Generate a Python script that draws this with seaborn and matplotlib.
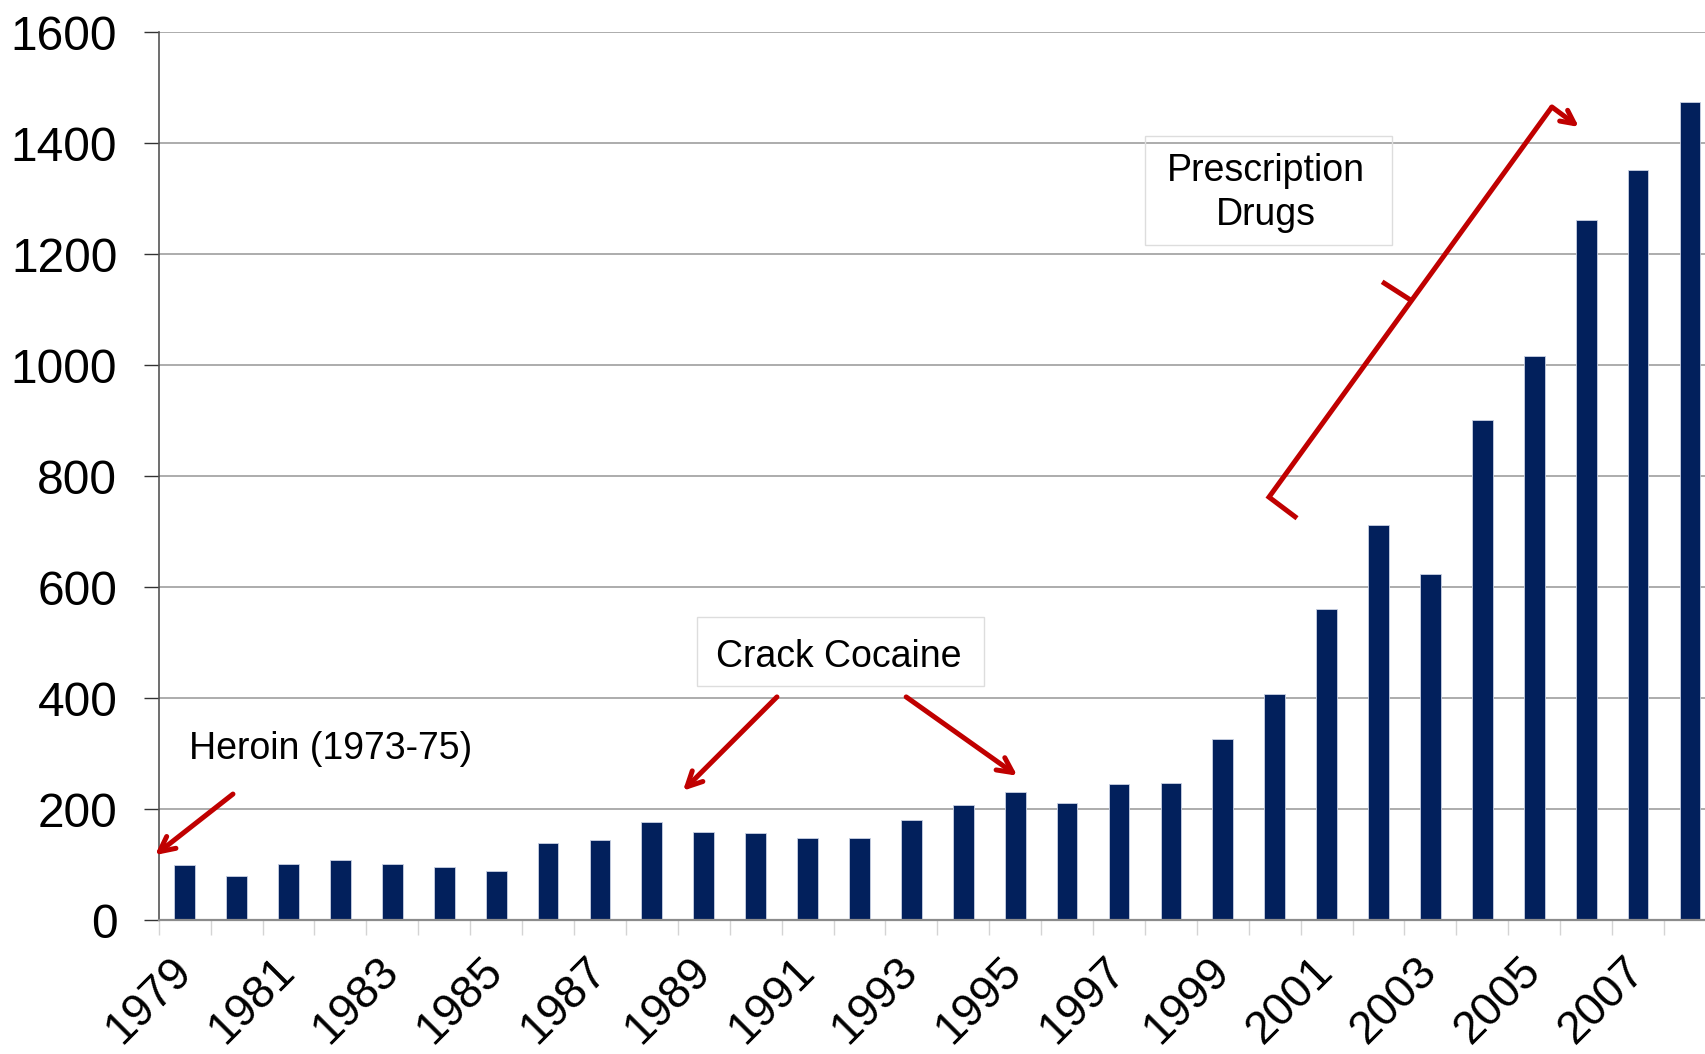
import numpy as np
import pandas as pd
import matplotlib
matplotlib.use("Agg")
import matplotlib.pyplot as plt
import seaborn as sns
from matplotlib.patches import Rectangle

# Annual counts, 1979-2008
years = [str(y) for y in range(1979, 2009)]
counts = [99, 79, 101, 108, 101, 95, 88, 138, 145, 177,
          159, 156, 147, 147, 181, 207, 230, 211, 245, 247,
          327, 408, 560, 712, 623, 901, 1017, 1262, 1352, 1474]
y_ticks = [0, 200, 400, 600, 800, 1000, 1200, 1400, 1600]
label_years = years[::2]

sns.set_theme(style="white")
plt.rcParams["font.family"] = ["Liberation Sans", "DejaVu Sans"]

BAR = "#02205C"
RED = "#C00000"

fig = plt.figure(figsize=(17.05, 10.54), dpi=100)
ax = fig.add_axes([0.0931, 0.1271, 0.9069, 0.8425])

df = pd.DataFrame({"year": years, "count": counts})
sns.barplot(data=df, x="year", y="count", color=BAR, saturation=1,
            width=0.4, edgecolor="#c9d1e3", linewidth=0.6, ax=ax)

ax.set_xlim(-0.5, 29.29)
ax.set_ylim(0, 1600)
ax.set_xlabel("")
ax.set_ylabel("")

# y axis: gridlines and outward ticks
ax.set_yticks(y_ticks)
ax.set_yticklabels([str(v) for v in y_ticks])
ax.yaxis.grid(True, color="#a6a6a6", linewidth=1.3)
ax.set_axisbelow(True)
ax.tick_params(axis="y", length=10.8, width=1.0, color="#333333",
               pad=19, labelsize=34.5, labelcolor="black", left=True)

# x axis: labels on every other year, tick marks between categories
ax.set_xticks(range(0, 30, 2))
ax.set_xticklabels(label_years)
ax.set_xticks(np.arange(-0.5, 29, 1.0), minor=True)
ax.tick_params(axis="x", which="major", length=0, pad=32, labelsize=33,
               labelcolor="black")
ax.tick_params(axis="x", which="minor", length=10.5, width=1.0,
               color="#d4d4d4", bottom=True)
for lbl in ax.get_xticklabels():
    lbl.set_rotation(45)
    lbl.set_ha("right")
    lbl.set_va("center")
    lbl.set_rotation_mode("anchor")

for side in ("top", "right"):
    ax.spines[side].set_visible(False)
ax.spines["left"].set_color("#555555")
ax.spines["left"].set_linewidth(1.2)
ax.spines["bottom"].set_color("#8c8c8c")
ax.spines["bottom"].set_linewidth(1.6)

arrow_kw = dict(arrowstyle="->,head_length=0.9,head_width=0.45",
                color=RED, lw=3.6, shrinkA=0, shrinkB=0)

# Heroin callout
ax.text(0.08, 309, "Heroin (1973-75)", fontsize=27, ha="left", va="center",
        color="black")
ax.annotate("", xy=(-0.57, 117), xytext=(0.93, 227),
            arrowprops=arrow_kw, annotation_clip=False)

# Crack cocaine callout
ax.add_patch(Rectangle((9.87, 422), 15.4 - 9.87, 546 - 422, facecolor="none",
                       edgecolor="#dddddd", lw=1.0, zorder=3))
ax.text(12.61, 474, "Crack Cocaine", fontsize=27, ha="center", va="center",
        color="black", zorder=4)
ax.annotate("", xy=(9.6, 233), xytext=(11.41, 402), arrowprops=arrow_kw)
ax.annotate("", xy=(16.04, 260), xytext=(13.9, 402), arrowprops=arrow_kw)

# Prescription drugs callout with bracket arrow
ax.add_patch(Rectangle((18.5, 1216), 23.26 - 18.5, 1413 - 1216,
                       facecolor="none", edgecolor="#dddddd", lw=1.0,
                       zorder=3))
ax.text(20.83, 1310, "Prescription\nDrugs", fontsize=27, ha="center",
        va="center", linespacing=1.32, color="black", zorder=4)
ax.plot([21.43, 20.89, 26.34], [724, 762, 1465], color=RED, lw=3.6,
        solid_joinstyle="miter", solid_capstyle="butt", zorder=5)
ax.plot([23.62, 23.07], [1117, 1150], color=RED, lw=3.6,
        solid_capstyle="butt", zorder=5)
ax.annotate("", xy=(26.86, 1429), xytext=(26.34, 1465),
            arrowprops=dict(arrowstyle="->,head_length=0.8,head_width=0.4",
                            color=RED, lw=3.6, shrinkA=0, shrinkB=0),
            zorder=5)

fig.savefig("out.png", dpi=100, facecolor="white")
